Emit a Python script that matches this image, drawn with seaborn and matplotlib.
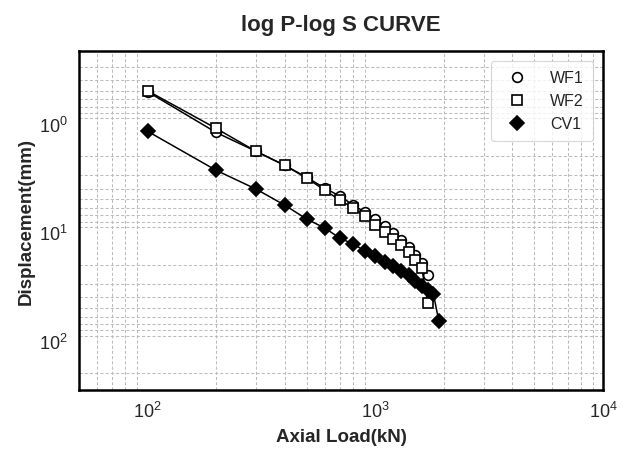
import matplotlib
matplotlib.use("Agg")
import matplotlib.pyplot as plt
import numpy as np
import pandas as pd
import seaborn as sns
from matplotlib.lines import Line2D
from matplotlib.ticker import LogLocator, NullFormatter

# Axial load steps (kN)
load_wf = [100, 200, 300, 400, 500, 600, 700, 800, 900, 1000,
           1100, 1200, 1300, 1400, 1500, 1600, 1700]
load_cv = [100, 200, 300, 400, 500, 600, 700, 800, 900, 1000,
           1100, 1200, 1300, 1400, 1500, 1600, 1700, 1800, 1900]

# Measured displacement (mm)
wf1_disp = [0.51, 1.21, 1.81, 2.43, 3.13, 3.95, 4.67, 5.65, 6.55, 7.60,
            8.81, 10.2, 11.8, 13.7, 16.3, 19.2, 24.8]
wf2_disp = [0.50, 1.11, 1.81, 2.43, 3.19, 4.12, 5.09, 6.02, 7.13, 8.62,
            10.0, 11.6, 13.2, 15.2, 18.1, 21.4, 44.8]
cv1_disp = [1.18, 2.70, 4.03, 5.65, 7.60, 9.19, 11.4, 12.9, 14.9, 16.6,
            18.8, 20.5, 22.8, 24.8, 28.2, 31.3, 34.0, 37.1, 65.6]

specimens = ["WF1", "WF2", "CV1"]

sns.set_theme(style="whitegrid")
plt.rcParams["font.family"] = ["Liberation Sans", "DejaVu Sans"]
plt.rcParams["mathtext.default"] = "regular"

fig = plt.figure(figsize=(6.25, 4.52), dpi=100)
ax = fig.add_axes([0.1264, 0.135, 0.8384, 0.750])

marker_styles = [
    dict(marker="o", markersize=7, markerfacecolor="white"),
    dict(marker="s", markersize=7.5, markerfacecolor="white"),
    dict(marker="D", markersize=7.2, markerfacecolor="black"),
]
series = [(load_wf, wf1_disp), (load_wf, wf2_disp), (load_cv, cv1_disp)]

for (x, y), mk in zip(series, marker_styles):
    df = pd.DataFrame({"Axial Load": x, "Displacement": y})
    sns.lineplot(data=df, x="Axial Load", y="Displacement", ax=ax,
                 color="black", linewidth=1.1, markeredgecolor="black",
                 markeredgewidth=1.2, **mk)

ax.set_xscale("log")
ax.set_yscale("log")
ax.set_xlim(50, 1e4)
ax.set_ylim(285, 0.215)

ax.xaxis.set_minor_locator(LogLocator(base=10, subs=np.arange(2, 10)))
ax.yaxis.set_minor_locator(LogLocator(base=10, subs=np.arange(2, 10)))
ax.xaxis.set_minor_formatter(NullFormatter())
ax.yaxis.set_minor_formatter(NullFormatter())

ax.grid(False, which="major")
ax.grid(True, which="minor", linestyle=(0, (3, 2)), color="#bcbcbc",
        linewidth=0.75)

for sp in ax.spines.values():
    sp.set_color("black")
    sp.set_linewidth(1.8)

ax.tick_params(axis="both", which="major", labelsize=13, pad=8, length=0)
ax.tick_params(axis="both", which="minor", length=0)

ax.set_xlabel("Axial Load(kN)", fontsize=13.5, fontweight="bold", labelpad=5)
ax.set_ylabel("Displacement(mm)", fontsize=13.5, fontweight="bold", labelpad=3)
ax.set_title("log P-log S CURVE", fontsize=16, fontweight="bold", pad=15)

handles = [
    Line2D([], [], linestyle="none", markeredgecolor="black",
           markeredgewidth=1.2, **mk)
    for mk in marker_styles
]
leg = ax.legend(handles, specimens, loc="upper right", fontsize=11.5,
                frameon=True, fancybox=True, borderaxespad=0.6,
                handletextpad=1.1, labelspacing=0.5, borderpad=0.6)
leg.get_frame().set_edgecolor("#cccccc")
leg.get_frame().set_linewidth(0.8)

fig.savefig("out.png", dpi=100)
